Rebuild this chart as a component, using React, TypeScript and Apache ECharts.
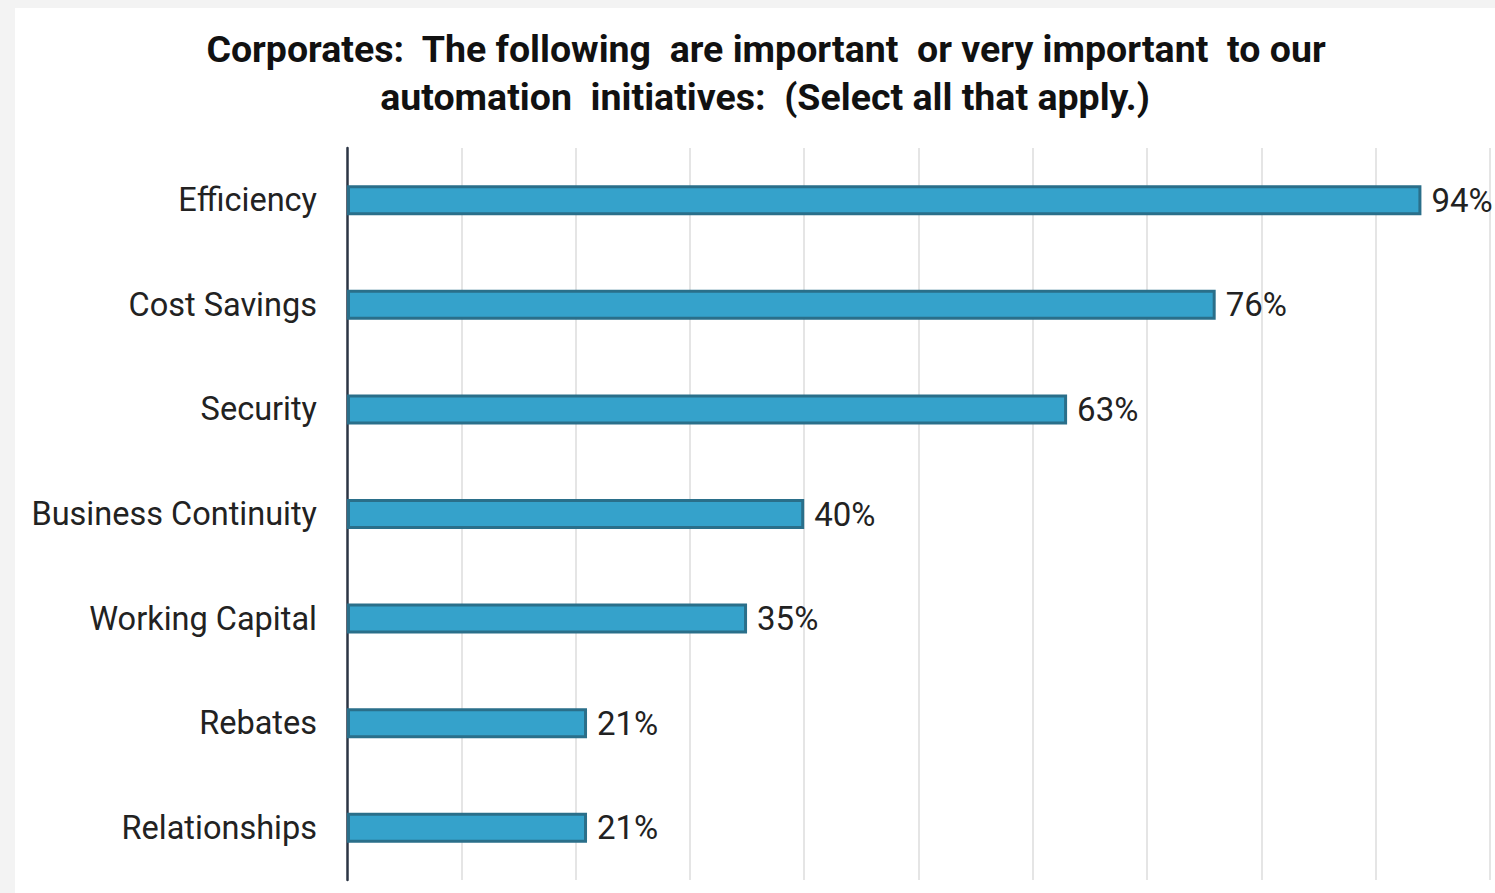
import React, { useEffect, useRef } from "react";
import * as echarts from "echarts";

const titleLines = [
  "Corporates:  The following  are important  or very important  to our",
  "automation  initiatives:  (Select all that apply.)",
];
const categories = [
  "Efficiency",
  "Cost Savings",
  "Security",
  "Business Continuity",
  "Working Capital",
  "Rebates",
  "Relationships",
];
const values = [94, 76, 63, 40, 35, 21, 21];

export default function App() {
  const ref = useRef<HTMLDivElement>(null);
  useEffect(() => {
    if (!ref.current) return;
    const chart = echarts.init(ref.current, undefined, { renderer: "svg" });
    const font = "Roboto, 'Noto Sans', sans-serif";
    chart.setOption({
      animation: false,
      backgroundColor: "#f3f3f3",
      graphic: [
        {
          type: "rect",
          shape: { x: 15, y: 8, width: 1480, height: 885 },
          style: { fill: "#ffffff" },
          z: -10,
          silent: true,
        },
        {
          type: "text",
          x: 766,
          y: 49,
          style: {
            text: titleLines[0],
            fontFamily: font,
            fontSize: 37.5,
            fontWeight: "bold",
            fill: "#111111",
            align: "center",
            verticalAlign: "middle",
          },
        },
        {
          type: "text",
          x: 765,
          y: 97,
          style: {
            text: titleLines[1],
            fontFamily: font,
            fontSize: 37.5,
            fontWeight: "bold",
            fill: "#111111",
            align: "center",
            verticalAlign: "middle",
          },
        },
      ],
      grid: { left: 347, right: 5, top: 148, bottom: 13, containLabel: false },
      xAxis: {
        type: "value",
        min: 0,
        max: 100,
        interval: 10,
        axisLabel: { show: false },
        axisLine: { show: false },
        axisTick: { show: false },
        splitLine: {
          show: true,
          showMinLine: false,
          showMaxLine: true,
          lineStyle: { color: "#dcdcdc", width: 1.5 },
        },
      },
      yAxis: {
        type: "category",
        data: categories,
        inverse: true,
        axisLine: { show: true, lineStyle: { color: "#2b3544", width: 2.5 } },
        axisTick: { show: false },
        axisLabel: {
          margin: 30,
          fontFamily: font,
          fontSize: 32.5,
          color: "#222222",
        },
        splitLine: { show: false },
      },
      series: [
        {
          type: "bar",
          data: values,
          barWidth: 30,
          itemStyle: {
            color: "#35a2cb",
            borderColor: "#2a6f8a",
            borderWidth: 3,
          },
          label: {
            show: true,
            position: "right",
            distance: 10,
            formatter: "{c}%",
            fontFamily: font,
            fontSize: 33,
            color: "#222222",
          },
          z: 1,
        },
      ],
    });
    return () => chart.dispose();
  }, []);
  return (
    <div
      ref={ref}
      style={{ position: "fixed", left: 0, top: 0, width: 1495, height: 893 }}
    />
  );
}
